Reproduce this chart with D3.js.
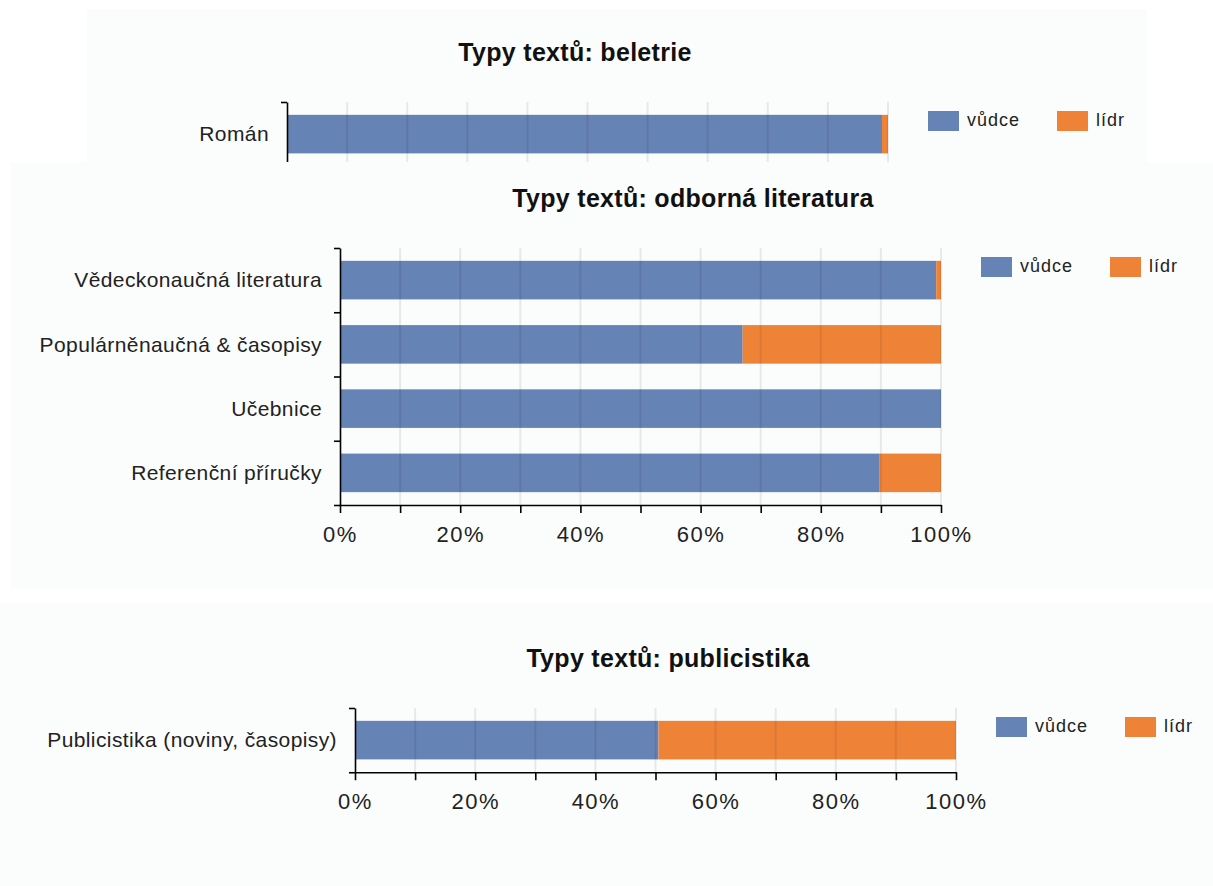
<!DOCTYPE html>
<html>
<head>
<meta charset="utf-8">
<script src="https://cdn.jsdelivr.net/npm/d3@7"></script>
<style>
body{margin:0;background:#fff;}
text{font-family:"Liberation Sans",Arial,sans-serif;fill:#222;}
</style>
</head>
<body>
<div id="chart"></div>
<script>
// series + data, one block per panel
var seriesNames=["vůdce","lídr"];
var seriesColors=["#6683b5","#ee8338"];
var tickValues=[0,10,20,30,40,50,60,70,80,90,100];

var beletrieTitle="Typy textů: beletrie";
var beletrieCats=["Román"];
var beletrieVudce=[99];
var beletrieLidr=[1];

var odbornaTitle="Typy textů: odborná literatura";
var odbornaCats=["Vědeckonaučná literatura","Populárněnaučná & časopisy","Učebnice","Referenční příručky"];
var odbornaVudce=[99.2,67,100,89.8];
var odbornaLidr=[0.8,33,0,10.2];

var publTitle="Typy textů: publicistika";
var publCats=["Publicistika (noviny, časopisy)"];
var publVudce=[50.5];
var publLidr=[49.5];

var W=1213,H=886;
var svg=d3.select("#chart").append("svg")
	.attr("width",W)
	.attr("height",H);

//draw one stacked percent bar chart
function drawPanel(p){
	var g=svg.append("g");
	if(p.clip){
		svg.append("clipPath").attr("id",p.id+"clip")
		.append("rect").attr("x",p.clip[0]).attr("y",p.clip[1]).attr("width",p.clip[2]).attr("height",p.clip[3]);
		g.attr("clip-path","url(#"+p.id+"clip)");
	}
	g.append("rect")
	.attr("x",p.bg[0]).attr("y",p.bg[1]).attr("width",p.bg[2]).attr("height",p.bg[3])
	.style("fill","#fbfcfc");

	var n=p.cats.length,
		bandH=64.25,
		bottom=p.top+bandH*n;

	var x=d3.scaleLinear().domain([0,100]).range([p.x0,p.x0+601]);
	var y=d3.scaleBand().domain(p.cats).range([p.top,bottom]).paddingInner(0.4).paddingOuter(0.2);
	var yEdge=d3.scaleLinear().domain([0,n]).range([p.top,bottom]);

	var rows=p.cats.map(function(c,i){ return {cat:c,"vůdce":p.vudce[i],"lídr":p.lidr[i]}; });
	var stack=d3.stack().keys(seriesNames)(rows);

	g.append("text")
	.attr("x",p.titleX).attr("y",p.top-41)
	.attr("text-anchor","middle")
	.style("font-size","25px").style("font-weight","bold").style("fill","#111")
	.style("letter-spacing","0.3px")
	.text(p.title);

	g.selectAll(".layer")
	.data(stack)
	.enter().append("g")
	.style("fill",function(d,i){ return seriesColors[i]; })
	.selectAll("rect")
	.data(function(d){ return d; })
	.enter().append("rect")
	.attr("x",function(d){ return x(d[0]); })
	.attr("width",function(d){ return x(d[1])-x(d[0]); })
	.attr("y",function(d){ return y(d.data.cat); })
	.attr("height",y.bandwidth());

	// grid on top, faint so it shows through the bars
	g.selectAll(".grid")
	.data(tickValues.slice(1))
	.enter().append("line")
	.attr("x1",function(d){ return x(d); }).attr("x2",function(d){ return x(d); })
	.attr("y1",p.top).attr("y2",bottom)
	.style("stroke","#000").style("stroke-opacity",0.08).style("stroke-width",2);

	var yAxis=g.append("g")
	.attr("transform","translate("+p.x0+",0)")
	.call(d3.axisLeft(yEdge).tickValues(d3.range(n+1)).tickFormat("").tickSize(6).tickSizeOuter(0));
	yAxis.selectAll("path,line").style("stroke","#000").style("stroke-width",1.6);

	g.selectAll(".cat")
	.data(p.cats)
	.enter().append("text")
	.attr("x",p.x0-18)
	.attr("y",function(d){ return y(d)+y.bandwidth()/2; })
	.attr("dy","0.35em")
	.attr("text-anchor","end")
	.style("font-size","21px")
	.style("letter-spacing","0.4px")
	.text(function(d){ return d; });

	// top panel is cut off above its x axis in the screenshot
	if(!p.noXAxis){
		var xAxis=g.append("g")
		.attr("transform","translate(0,"+bottom+")")
		.call(d3.axisBottom(x).tickValues(tickValues).tickSize(8).tickSizeOuter(0).tickPadding(13)
			.tickFormat(function(d){ return d%20===0 ? d+"%" : ""; }));
		xAxis.selectAll("path,line").style("stroke","#000").style("stroke-width",1.6);
		xAxis.selectAll("text").style("font-size","22px").style("fill","#222")
		.style("letter-spacing","1.5px")
		.style("font-family","Liberation Sans,Arial,sans-serif");
	}

	//legend
	var leg=g.selectAll(".leg")
	.data(seriesNames)
	.enter().append("g")
	.attr("transform",function(d,i){ return "translate("+(p.x0+641+i*129)+","+(p.top+9)+")"; });
	leg.append("rect")
	.attr("width",31).attr("height",20)
	.style("fill",function(d,i){ return seriesColors[i]; });
	leg.append("text")
	.attr("x",39).attr("y",15)
	.style("font-size","18px")
	.style("letter-spacing","1px")
	.text(function(d){ return d; });
}

drawPanel({id:"bel",title:beletrieTitle,cats:beletrieCats,vudce:beletrieVudce,lidr:beletrieLidr,
	x0:287,top:102,titleX:575,bg:[87,9,1060,153],clip:[87,9,1060,153],noXAxis:true});
drawPanel({id:"odb",title:odbornaTitle,cats:odbornaCats,vudce:odbornaVudce,lidr:odbornaLidr,
	x0:340,top:248,titleX:693,bg:[11,162,1202,427]});
drawPanel({id:"pub",title:publTitle,cats:publCats,vudce:publVudce,lidr:publLidr,
	x0:355,top:708,titleX:668,bg:[0,602,1213,284]});
</script>
</body>
</html>
